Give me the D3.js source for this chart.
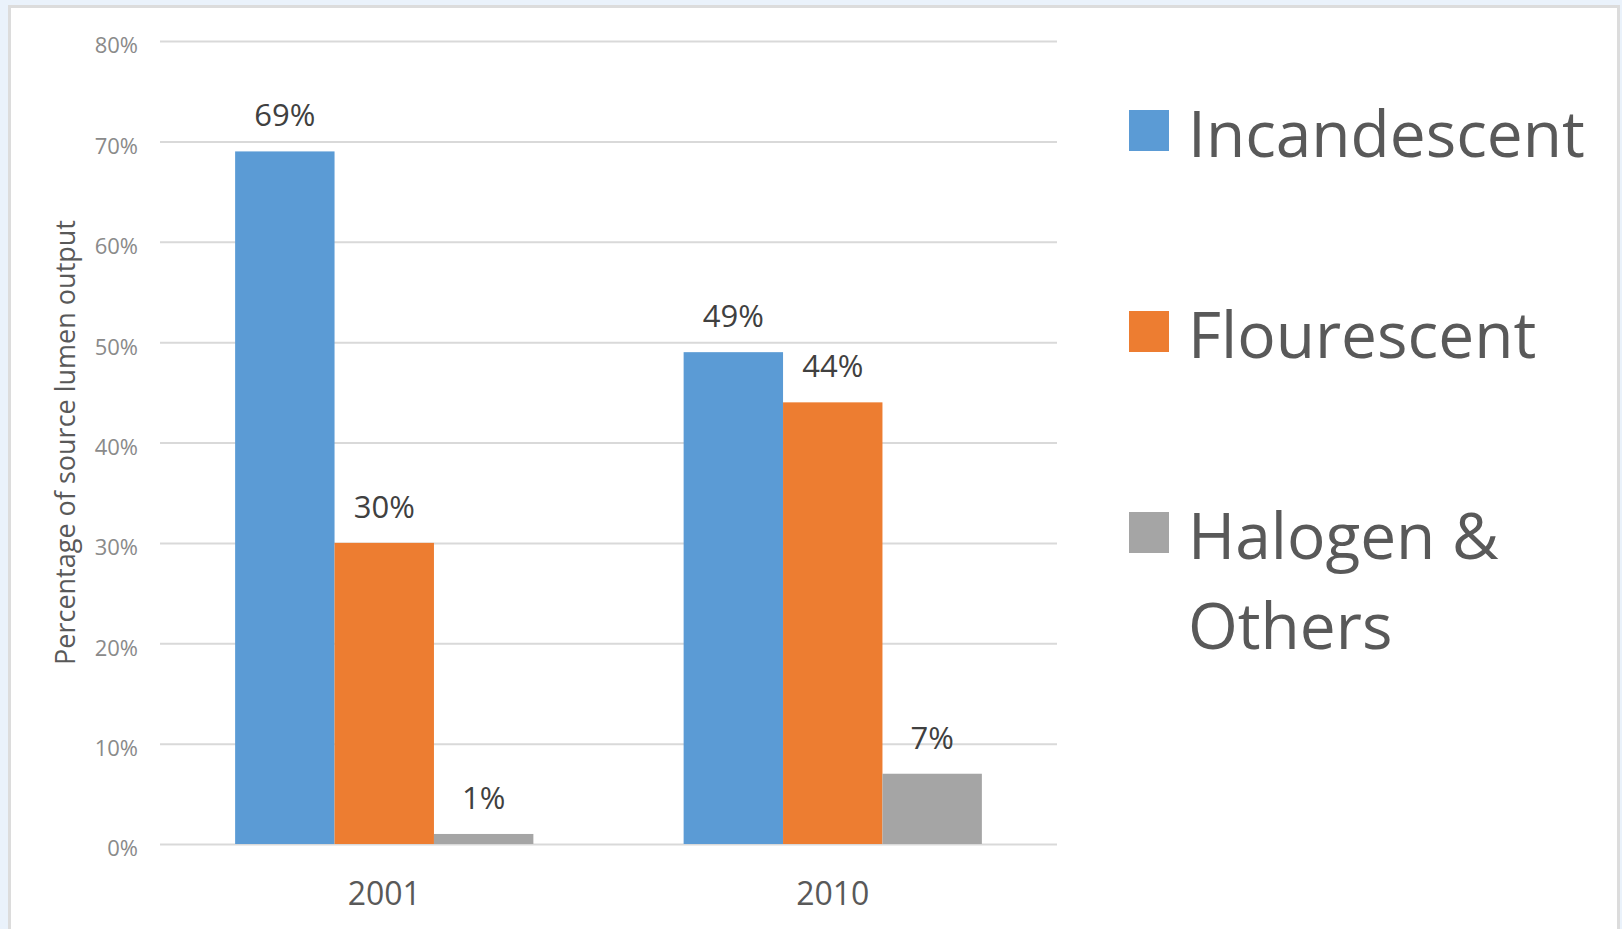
<!DOCTYPE html>
<html lang="en">
<head>
    <meta charset="UTF-8">
    <title>Source lumen output by lamp type</title>
    <style>
        html, body {
            margin: 0;
            padding: 0;
            background: #eaf2fb;
        }

        svg {
            display: block;
            font-family: "Open Sans", sans-serif;
        }

        .grid line {
            stroke: #d9d9d9;
            stroke-width: 2px;
        }

        .y-labels text {
            font-size: 22px;
            fill: #8a8a8a;
        }

        .x-labels text {
            font-size: 32px;
            fill: #595959;
        }

        .value-label {
            font-size: 31px;
            fill: #404040;
        }

        .legend text {
            font-size: 64px;
            fill: #595959;
        }
    </style>
</head>
<body>
<script src="https://d3js.org/d3.v7.min.js"></script>
<script>
    // values
    const years = ['2001', '2010'];
    const series = ['Incandescent', 'Flourescent', 'Halogen & Others'];
    const incandescent = [0.69, 0.49];
    const flourescent = [0.30, 0.44];
    const halogen = [0.01, 0.07];
    const yTicks = [0, 0.1, 0.2, 0.3, 0.4, 0.5, 0.6, 0.7, 0.8];
    const colors = ['#5b9bd5', '#ed7d31', '#a5a5a5'];
    const legendLines = [['Incandescent'], ['Flourescent'], ['Halogen &', 'Others']];

    const values = [incandescent, flourescent, halogen];
    const rows = [];
    years.forEach((year, i) => {
        series.forEach((s, j) => rows.push({year: year, series: s, value: values[j][i], color: colors[j]}));
    });

    const width = 1622;
    const height = 929;
    const plot = {left: 160, right: 1057, top: 41, bottom: 844};

    const svg = d3.select('body').append('svg')
        .attr('width', width)
        .attr('height', height);

    // white panel with grey frame
    svg.append('rect')
        .attr('x', 9.5)
        .attr('y', 6.5)
        .attr('width', 1609)
        .attr('height', 940)
        .attr('fill', '#ffffff')
        .attr('stroke', '#dcdcdc')
        .attr('stroke-width', 3);

    const y = d3.scaleLinear()
        .domain([0, 0.8])
        .range([plot.bottom, plot.top]);

    const x0 = d3.scaleBand()
        .domain(years)
        .range([plot.left, plot.right])
        .paddingInner(0.335)
        .paddingOuter(0.1675);

    const x1 = d3.scaleBand()
        .domain(series)
        .range([0, x0.bandwidth()]);

    // axis groups come with their own font attributes, drop them so the css applies
    const plain = g => g
        .attr('font-family', null)
        .attr('font-size', null)
        .call(g => g.select('.domain').remove())
        .call(g => g.selectAll('text').attr('fill', null));

    // gridlines
    svg.append('g')
        .attr('class', 'grid')
        .attr('transform', `translate(${plot.left},0)`)
        .call(d3.axisLeft(y).tickValues(yTicks).tickSize(-(plot.right - plot.left)).tickFormat(''))
        .call(plain);

    // y tick labels
    svg.append('g')
        .attr('class', 'y-labels')
        .attr('transform', `translate(${plot.left},0)`)
        .call(d3.axisLeft(y).tickValues(yTicks).tickSize(0).tickPadding(22).tickFormat(d3.format('.0%')))
        .call(plain)
        .call(g => g.selectAll('text').attr('dy', '0.54em'));

    // x labels
    svg.append('g')
        .attr('class', 'x-labels')
        .attr('transform', `translate(0,${plot.bottom})`)
        .call(d3.axisBottom(x0).tickSize(0).tickPadding(0))
        .call(plain)
        .call(g => g.selectAll('text').attr('y', 61).attr('dy', 0));

    // y axis title
    svg.append('text')
        .attr('transform', `translate(75,${(plot.top + plot.bottom) / 2}) rotate(-90)`)
        .attr('text-anchor', 'middle')
        .attr('font-size', 27)
        .attr('fill', '#595959')
        .text('Percentage of source lumen output');

    // bars
    svg.append('g')
        .selectAll('rect')
        .data(rows)
        .join('rect')
        .attr('x', d => x0(d.year) + x1(d.series))
        .attr('y', d => y(d.value))
        .attr('width', x1.bandwidth())
        .attr('height', d => y(0) - y(d.value))
        .attr('fill', d => d.color);

    // value labels
    svg.append('g')
        .selectAll('text')
        .data(rows)
        .join('text')
        .attr('class', 'value-label')
        .attr('x', d => x0(d.year) + x1(d.series) + x1.bandwidth() / 2)
        .attr('y', d => y(d.value) - 25)
        .attr('text-anchor', 'middle')
        .text(d => d3.format('.0%')(d.value));

    // legend
    const legend = svg.append('g')
        .attr('class', 'legend')
        .attr('transform', 'translate(1129,0)');

    const item = legend.selectAll('g')
        .data(series)
        .join('g')
        .attr('transform', (d, i) => `translate(0,${110 + i * 201})`);

    item.append('rect')
        .attr('width', 40)
        .attr('height', 41)
        .attr('fill', (d, i) => colors[i]);

    item.append('text')
        .attr('x', 59)
        .attr('y', 47)
        .selectAll('tspan')
        .data((d, i) => legendLines[i])
        .join('tspan')
        .attr('x', 59)
        .attr('dy', (d, i) => i === 0 ? 0 : 90)
        .text(d => d);
</script>
</body>
</html>
